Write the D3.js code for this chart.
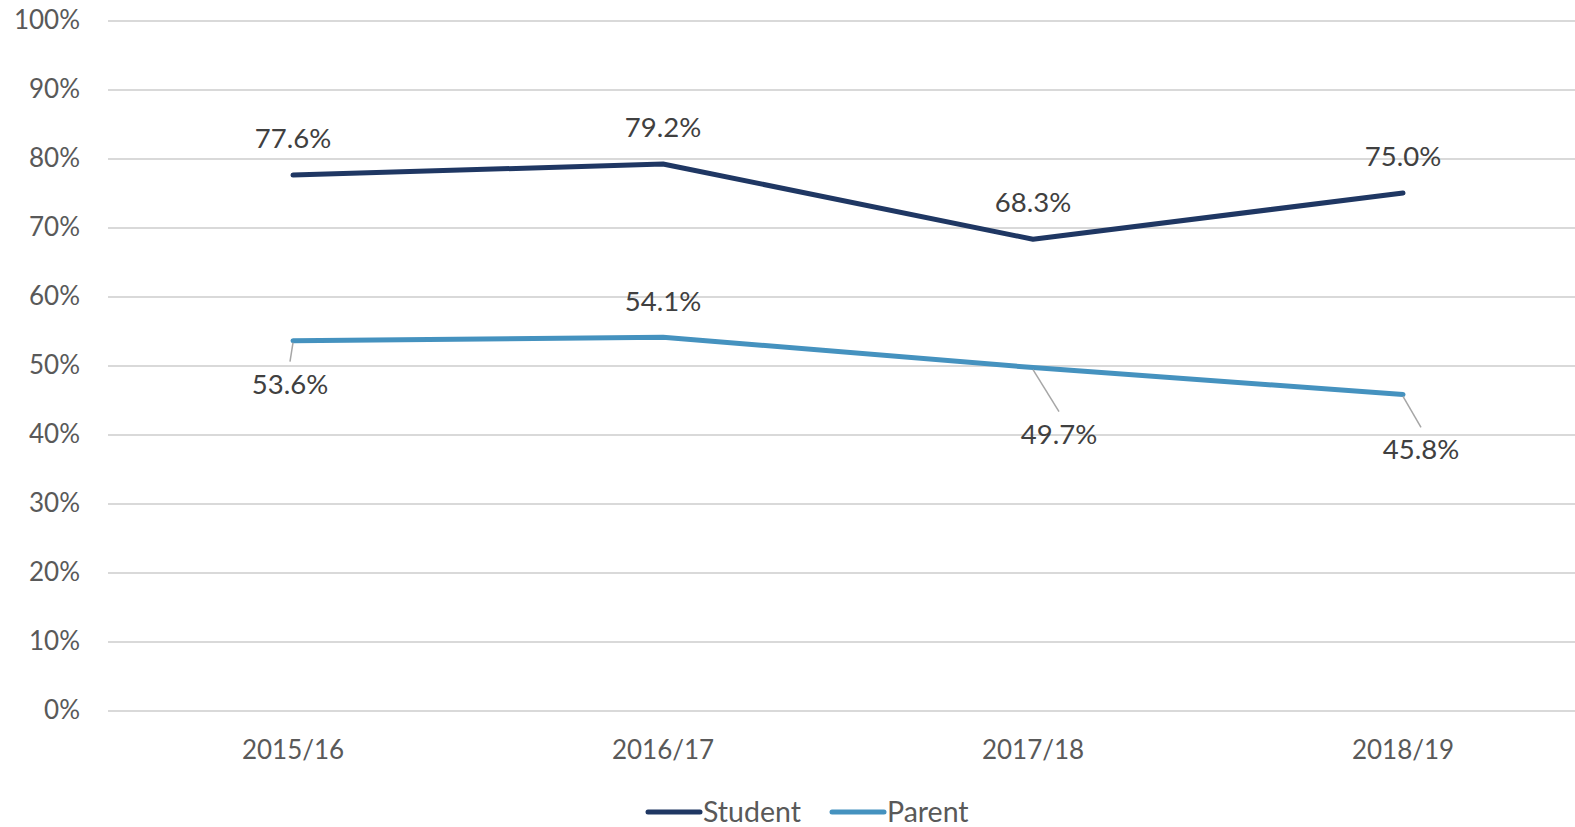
<!DOCTYPE html>
<html>
<head>
<meta charset="utf-8">
<script src="https://cdn.jsdelivr.net/npm/d3@7"></script>
<style>
  body { margin: 0; background: #fff; }
  text { font-family: "Lato", "Open Sans", sans-serif; }
</style>
</head>
<body>
<div id="chart"></div>
<script>
"use strict";

// data
var years = ["2015/16", "2016/17", "2017/18", "2018/19"];
var student = [77.6, 79.2, 68.3, 75.0];
var parent = [53.6, 54.1, 49.7, 45.8];
var yTicks = [0, 10, 20, 30, 40, 50, 60, 70, 80, 90, 100];

// where each label sits relative to its point (baseline), and whether it gets a leader line
var studentLabelPos = [[0, -27], [0, -27], [0, -27], [0, -27]];
var parentLabelPos = [[-3, 53], [0, -26], [26, 76], [18, 65]];
var parentLeader = [true, false, true, true];

var W = 1575, H = 827;
var margin = {top: 20.5, right: 0, bottom: 116.5, left: 108};

var svg = d3.select("#chart")
  .append("svg")
    .attr("width", W)
    .attr("height", H);

var x = d3.scaleBand()
  .domain(years)
  .range([margin.left, margin.left + 4 * 370]);

var y = d3.scaleLinear()
  .domain([0, 100])
  .range([H - margin.bottom, margin.top]);

// gridlines + y labels
var yAxis = svg.append("g")
  .attr("transform", "translate(" + margin.left + ",0)")
  .call(d3.axisLeft(y)
    .tickValues(yTicks)
    .tickSize(-(W - margin.left))
    .tickPadding(28)
    .tickFormat(function(d) { return d + "%"; }));
yAxis.select(".domain").remove();
yAxis.selectAll("line")
  .attr("stroke", "#d9d9d9")
  .attr("stroke-width", 2);
yAxis.selectAll("text")
  .attr("fill", "#595959")
  .style("font-size", "26px");

// x labels
var xAxis = svg.append("g")
  .attr("transform", "translate(0," + y(0) + ")")
  .call(d3.axisBottom(x).tickSize(0).tickPadding(30));
xAxis.select(".domain").remove();
xAxis.selectAll("text")
  .attr("fill", "#595959")
  .style("font-size", "26px");

var cx = function(i) { return x(years[i]) + x.bandwidth() / 2; };

var line = d3.line()
  .x(function(d, i) { return cx(i); })
  .y(function(d) { return y(d); });

var series = [
  {name: "Student", values: student, color: "#1f3763", pos: studentLabelPos, leader: [false, false, false, false]},
  {name: "Parent", values: parent, color: "#4592bf", pos: parentLabelPos, leader: parentLeader}
];

series.forEach(function(s) {
  svg.append("path")
    .datum(s.values)
    .attr("fill", "none")
    .attr("stroke", s.color)
    .attr("stroke-width", 5)
    .attr("stroke-linecap", "round")
    .attr("stroke-linejoin", "round")
    .attr("d", line);
});

// data labels
series.forEach(function(s) {
  s.values.forEach(function(v, i) {
    var px = cx(i), py = y(v);
    var lx = px + s.pos[i][0], ly = py + s.pos[i][1];
    if (s.leader[i]) {
      svg.append("line")
        .attr("x1", px).attr("y1", py + 2)
        .attr("x2", lx).attr("y2", ly - 32)
        .attr("stroke", "#a6a6a6")
        .attr("stroke-width", 1.5);
    }
    svg.append("text")
      .attr("x", lx)
      .attr("y", ly)
      .attr("text-anchor", "middle")
      .attr("fill", "#404040")
      .style("font-size", "27.5px")
      .text(v.toFixed(1) + "%");
  });
});

// legend
var legend = svg.append("g")
  .attr("transform", "translate(648,812)");
var legendX = [0, 184];
series.forEach(function(s, i) {
  var g = legend.append("g").attr("transform", "translate(" + legendX[i] + ",0)");
  g.append("line")
    .attr("x1", 0).attr("x2", 52)
    .attr("stroke", s.color)
    .attr("stroke-width", 5)
    .attr("stroke-linecap", "round");
  g.append("text")
    .attr("x", 55)
    .attr("y", 10)
    .attr("fill", "#595959")
    .style("font-size", "28.5px")
    .text(s.name);
});
</script>
</body>
</html>
